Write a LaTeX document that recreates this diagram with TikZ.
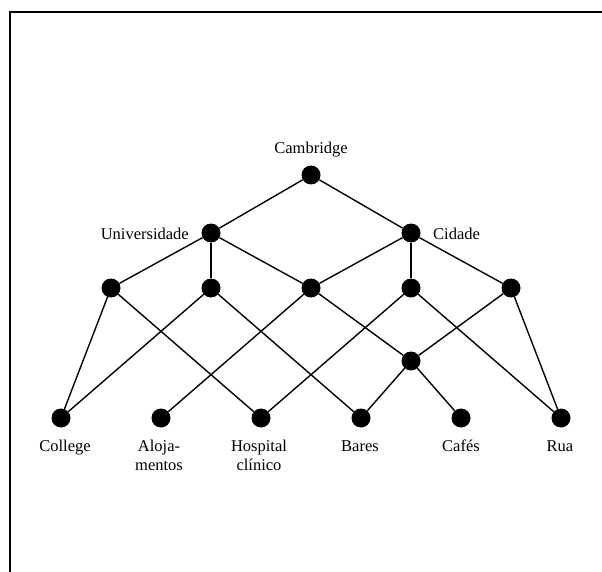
\documentclass[tikz,border=0pt]{standalone}
\usepackage{fontspec}
\setmainfont{Liberation Serif}
\begin{document}
\begin{tikzpicture}[x=1pt,y=-1pt,
  dot/.style={circle,fill=black,draw=none,inner sep=0pt,minimum size=19pt},
  link/.style={line width=1.4pt,black},
  lbl/.style={font=\fontsize{16.5}{19}\selectfont,inner sep=0pt,anchor=base},
  frameline/.style={line width=2pt,black}]
\useasboundingbox (0,0) rectangle (602,572);

% open frame: left side and top only
\coordinate (fbl) at (10,572);
\coordinate (ftl) at (10,12);
\coordinate (ftr) at (602,12);
\draw[frameline] (fbl) -- (ftl) -- (ftr);

% lattice points
\node[dot] (cam) at (311,175) {};
\node[dot] (uni) at (211,233) {};
\node[dot] (cid) at (411,233) {};
\node[dot] (a1) at (111,288) {};
\node[dot] (a2) at (211,288) {};
\node[dot] (a3) at (311,288) {};
\node[dot] (a4) at (411,288) {};
\node[dot] (a5) at (511,288) {};
\node[dot] (m) at (411,361) {};
\node[dot] (b1) at (61,418) {};
\node[dot] (b2) at (161,418) {};
\node[dot] (b3) at (261,418) {};
\node[dot] (b4) at (361,418) {};
\node[dot] (b5) at (461,418) {};
\node[dot] (b6) at (561,418) {};

% connections
\draw[link] (cam) -- (uni);
\draw[link] (cam) -- (cid);
\draw[link] (uni) -- (a1);
\draw[link] (uni) -- (a2);
\draw[link] (uni) -- (a3);
\draw[link] (cid) -- (a3);
\draw[link] (cid) -- (a4);
\draw[link] (cid) -- (a5);
\draw[link] (a1) -- (b1);
\draw[link] (a1) -- (b3);
\draw[link] (a2) -- (b1);
\draw[link] (a2) -- (b4);
\draw[link] (a3) -- (b2);
\draw[link] (a3) -- (m);
\draw[link] (a4) -- (b3);
\draw[link] (a4) -- (b6);
\draw[link] (a5) -- (m);
\draw[link] (a5) -- (b6);
\draw[link] (m) -- (b4);
\draw[link] (m) -- (b5);

% labels
\node[lbl] (lcam) at (311,154) {Cambridge};
\node[lbl,anchor=base east] (luni) at (189,239) {Universidade};
\node[lbl,anchor=base west] (lcid) at (433,239) {Cidade};
\node[lbl] (lb1) at (65,451) {College};
\node[lbl] (lb2) at (159,451) {\begin{tabular}[t]{@{}c@{}}Aloja-\\mentos\end{tabular}};
\node[lbl] (lb3) at (259,451) {\begin{tabular}[t]{@{}c@{}}Hospital\\clínico\end{tabular}};
\node[lbl] (lb4) at (360,451) {Bares};
\node[lbl] (lb5) at (461,451) {Cafés};
\node[lbl] (lb6) at (560,451) {Rua};
\end{tikzpicture}
\end{document}
